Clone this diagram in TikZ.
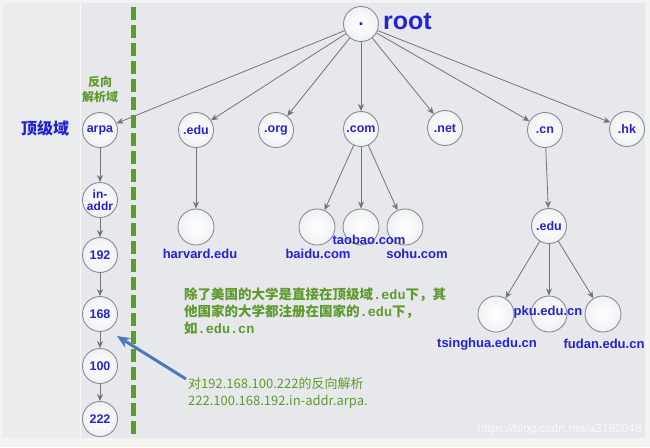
\documentclass[tikz,border=0pt]{standalone}
\usepackage{fontspec}
\setmainfont{Liberation Sans}
\newfontfamily\cjk{Noto Sans CJK SC}
\newfontfamily\monof{Liberation Mono}
\usetikzlibrary{arrows.meta}
\definecolor{panel}{HTML}{E7E8EC}
\definecolor{strip}{HTML}{EBECEE}
\definecolor{outer}{HTML}{F3F3F1}
\definecolor{lblue}{HTML}{2222D8}
\definecolor{dgreen}{HTML}{5A9E2A}
\definecolor{tgreen}{HTML}{5E9A2E}
\definecolor{edgec}{HTML}{737373}
\definecolor{ringc}{HTML}{858D99}
\definecolor{arrblue}{HTML}{4A78C2}
\tikzset{
  dn/.style={circle, draw=ringc, line width=0.9pt, inner color=white, outer color=white!88!ringc,
             minimum size=35pt, inner sep=0pt, font=\bfseries\fontsize{12.5}{13}\selectfont,
             text=lblue, align=center},
  sdn/.style={dn, minimum size=36pt},
  lbl/.style={font=\bfseries\fontsize{13}{14}\selectfont, text=lblue, inner sep=0pt},
  con/.style={-{Stealth[length=7pt,width=6pt]}, draw=edgec, line width=0.8pt},
  note/.style={text=tgreen, align=left, anchor=north west, inner sep=0pt},
}
\begin{document}
\begin{tikzpicture}[x=1pt,y=-1pt]
\useasboundingbox (0,0) rectangle (650,447);
\fill[outer] (0,0) rectangle (650,447);
\fill[panel] (3,3) rectangle (645,438);
\fill[strip] (3,3) rectangle (80,438);
\draw[white!70!panel, line width=0.6pt] (80,3) -- (80,438);

% green dashed divider
\draw[dgreen, line width=5pt, dash pattern=on 13pt off 5pt] (133,7) -- (133,438);

% root
\node[dn, font=\bfseries\fontsize{18}{18}\selectfont] (root) at (361,24) {.};
\node[font=\bfseries\fontsize{25}{26}\selectfont, text=lblue, anchor=west, inner sep=0pt] (rootlbl) at (383,21) {root};

% top level
\node[dn] (arpa) at (100,130) {arpa};
\node[dn] (edu) at (196,130) {.edu};
\node[dn] (org) at (276,130) {.org};
\node[dn] (com) at (361,129) {.com};
\node[dn] (net) at (445,128) {.net};
\node[dn] (cn) at (545,130) {.cn};
\node[dn] (hk) at (627,129) {.hk};

\foreach \c in {arpa,edu,org,com,net,cn,hk} \draw[con] (root) -- (\c);

% arpa chain
\node[dn, font=\bfseries\fontsize{12}{12.5}\selectfont] (inaddr) at (100,200) {in-\\addr};
\node[dn] (n192) at (100,255) {192};
\node[dn] (n168) at (100,314) {168};
\node[dn] (n100) at (100,366) {100};
\node[dn] (n222) at (100,419) {222};
\draw[con] (arpa) -- (inaddr);
\draw[con] (inaddr) -- (n192);
\draw[con] (n192) -- (n168);
\draw[con] (n168) -- (n100);
\draw[con] (n100) -- (n222);

% second level
\node[sdn] (harvard) at (196,227) {};
\draw[con] (edu) -- (harvard);
\node[lbl] (harvardl) at (200,254) {harvard.edu};

\node[sdn] (baidu) at (317,227) {};
\node[sdn] (taobao) at (361,227) {};
\node[sdn] (sohu) at (405,227) {};
\draw[con] (com) -- (baidu);
\draw[con] (com) -- (taobao);
\draw[con] (com) -- (sohu);
\node[lbl] (taobaol) at (369,240) {taobao.com};
\node[lbl] (baidul) at (318,254) {baidu.com};
\node[lbl] (sohul) at (417,254) {sohu.com};

\node[dn] (cnedu) at (549,226) {.edu};
\draw[con] (cn) -- (cnedu);
\node[sdn] (tsinghua) at (496,314) {};
\node[sdn] (pku) at (549,314) {};
\node[sdn] (fudan) at (603,314) {};
\draw[con] (cnedu) -- (tsinghua);
\draw[con] (cnedu) -- (pku);
\draw[con] (cnedu) -- (fudan);
\node[lbl] (pkul) at (548,312) {pku.edu.cn};
\node[lbl] (tsinghual) at (487,344) {tsinghua.edu.cn};
\node[lbl] (fudanl) at (604,344) {fudan.edu.cn};

% side labels
\node[text=lblue, font=\cjk\bfseries\fontsize{16}{17}\selectfont, inner sep=0pt] (tld) at (45,128) {顶级域};
\node[text=tgreen, font=\cjk\bfseries\fontsize{12}{15}\selectfont, align=center, inner sep=0pt] (rev) at (100,89) {反向\\解析域};

% notes
\node[note, font=\cjk\bfseries\fontsize{13.5}{17}\selectfont] (note1) at (184,288)
  {除了美国的大学是直接在顶级域{\monof\bfseries .edu}下，其\\
   他国家的大学都注册在国家的{\monof\bfseries .edu}下，\\
   如{\monof\bfseries .edu.cn}};
\node[note, font=\cjk\fontsize{13}{17}\selectfont] (note2) at (188,377)
  {对192.168.100.222的反向解析\\222.100.168.192.in-addr.arpa.};

\coordinate (arrstart) at (186,379);
\draw[arrblue, line width=3pt, -{Stealth[length=13pt,width=11pt]}] (arrstart) -- (117,336);

% watermark
\node[text=white, opacity=0.75, font=\fontsize{12}{13}\selectfont, anchor=east, inner sep=0pt] (wm) at (642,429) {https://blog.csdn.net/a3192048};
\end{tikzpicture}
\end{document}
